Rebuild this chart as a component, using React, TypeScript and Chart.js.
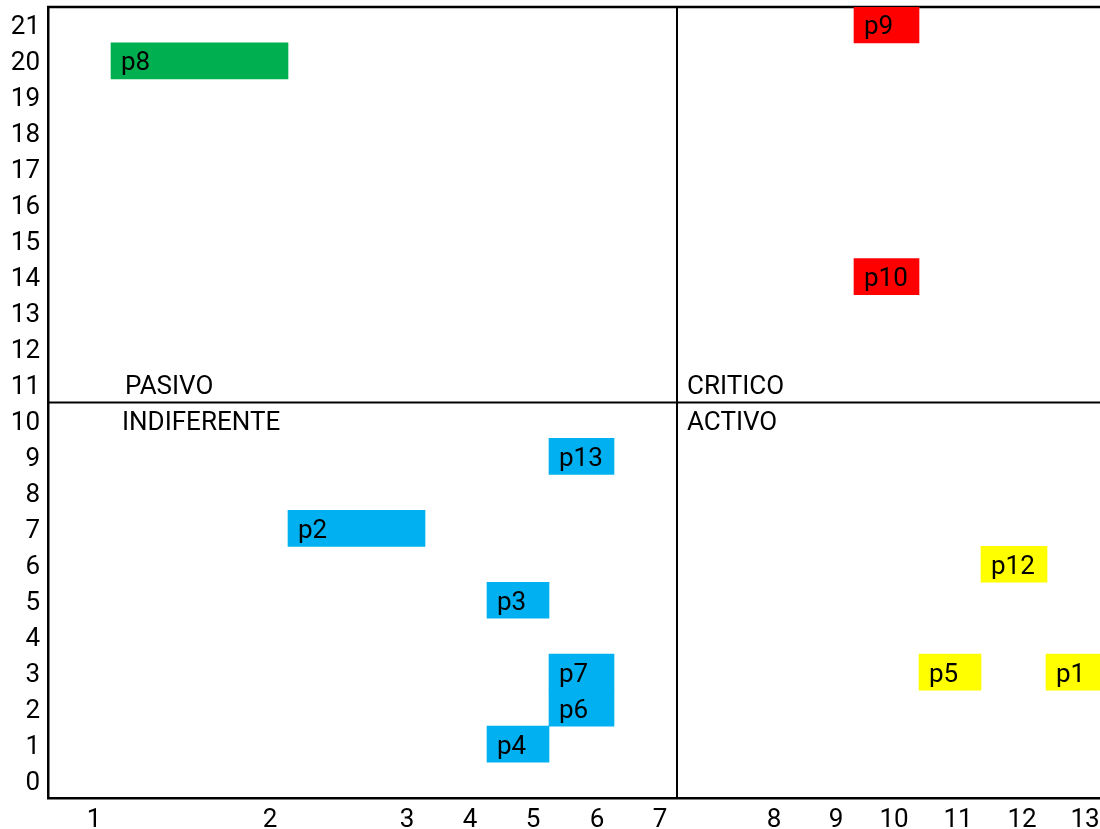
import React, { useEffect, useRef } from 'react';
import { Chart, registerables } from 'chart.js';

Chart.register(...registerables);

// Row categories (top to bottom)
const rowLabels = ['21', '20', '19', '18', '17', '16', '15', '14', '13', '12', '11', '10', '9', '8', '7', '6', '5', '4', '3', '2', '1', '0'];

// Horizontal axis tick positions (axis units) and their labels
const xTickValues = [4.6, 22.2, 35.9, 42.2, 48.5, 54.9, 61.2, 72.6, 78.8, 84.6, 91.0, 97.4, 103.7];
const xTickLabels = ['1', '2', '3', '4', '5', '6', '7', '8', '9', '10', '11', '12', '13'];

// PASIVO group (green)
const pasivoNames = ['p8'];
const pasivoRows = ['20'];
const pasivoStart = [6.3];
const pasivoEnd = [24.0];

// INDIFERENTE group (blue)
const indifNames = ['p2', 'p3', 'p4', 'p13', 'p7', 'p6'];
const indifRows = ['7', '5', '1', '9', '3', '2'];
const indifStart = [24.0, 43.9, 43.9, 50.1, 50.1, 50.1];
const indifEnd = [37.7, 50.1, 50.1, 56.6, 56.6, 56.6];

// CRITICO group (red)
const criticoNames = ['p9', 'p10'];
const criticoRows = ['21', '14'];
const criticoStart = [80.6, 80.6];
const criticoEnd = [87.1, 87.1];

// ACTIVO group (yellow)
const activoNames = ['p5', 'p12', 'p1'];
const activoRows = ['3', '6', '3'];
const activoStart = [87.1, 93.3, 99.8];
const activoEnd = [93.3, 99.9, 106.3];

// Quadrant dividers and captions
const splitX = 62.9;
const splitRowAbove = '11';
const splitRowBelow = '10';
const quadrantNames = ['PASIVO', 'INDIFERENTE', 'CRITICO', 'ACTIVO'];
const quadrantRows = ['11', '10', '11', '10'];
const quadrantX = [7.7, 7.4, 63.9, 63.9];

const X_MIN = 0;
const X_MAX = 107;
const FONT = 'Roboto, "Noto Sans", sans-serif';
const FONT_SIZE = 26;
const TEXT_DY = 3;

const makeData = (rows: string[], starts: number[], ends: number[]) =>
  rows.map((r, i) => ({ y: r, x: [starts[i], ends[i]] }));

const groups = [
  { names: pasivoNames, rows: pasivoRows, start: pasivoStart, end: pasivoEnd, color: '#00B050' },
  { names: indifNames, rows: indifRows, start: indifStart, end: indifEnd, color: '#00B0F0' },
  { names: criticoNames, rows: criticoRows, start: criticoStart, end: criticoEnd, color: '#FF0000' },
  { names: activoNames, rows: activoRows, start: activoStart, end: activoEnd, color: '#FFFF00' },
];

const quadrantPlugin = {
  id: 'quadrants',
  beforeDatasetsDraw(chart: any) {
    const { ctx, chartArea, scales } = chart;
    const xs = scales.x;
    const ys = scales.y;
    ctx.save();
    ctx.strokeStyle = '#000';
    // top frame
    ctx.lineWidth = 2.5;
    ctx.beginPath();
    ctx.moveTo(chartArea.left - 1, chartArea.top);
    ctx.lineTo(chartArea.right, chartArea.top);
    ctx.stroke();
    // dividers
    ctx.lineWidth = 2;
    const vx = xs.getPixelForValue(splitX);
    ctx.beginPath();
    ctx.moveTo(vx, chartArea.top);
    ctx.lineTo(vx, chartArea.bottom);
    ctx.stroke();
    const ya = ys.getPixelForValue(rowLabels.indexOf(splitRowAbove));
    const yb = ys.getPixelForValue(rowLabels.indexOf(splitRowBelow));
    const hy = (ya + yb) / 2;
    ctx.beginPath();
    ctx.moveTo(chartArea.left, hy);
    ctx.lineTo(chartArea.right, hy);
    ctx.stroke();
    // captions
    ctx.fillStyle = '#000';
    ctx.font = FONT_SIZE + 'px ' + FONT;
    ctx.textAlign = 'left';
    ctx.textBaseline = 'middle';
    quadrantNames.forEach((n, i) => {
      const px = xs.getPixelForValue(quadrantX[i]);
      const py = ys.getPixelForValue(rowLabels.indexOf(quadrantRows[i]));
      ctx.fillText(n, px, py + TEXT_DY);
    });
    ctx.restore();
  },
  afterDatasetsDraw(chart: any) {
    const { ctx } = chart;
    ctx.save();
    ctx.fillStyle = '#000';
    ctx.font = FONT_SIZE + 'px ' + FONT;
    ctx.textAlign = 'left';
    ctx.textBaseline = 'middle';
    chart.data.datasets.forEach((ds: any, di: number) => {
      const meta = chart.getDatasetMeta(di);
      meta.data.forEach((el: any, i: number) => {
        const p = el.getProps(['x', 'base', 'y'], true);
        const left = Math.min(p.x, p.base);
        ctx.fillText(ds.names[i], left + 10, p.y + TEXT_DY);
      });
    });
    ctx.restore();
  },
};

export default function App() {
  const canvasRef = useRef<HTMLCanvasElement | null>(null);

  useEffect(() => {
    const canvas = canvasRef.current;
    if (!canvas) return;
    const chart = new Chart(canvas, {
      type: 'bar',
      data: {
        labels: rowLabels,
        datasets: groups.map((g) => ({
          label: g.names.join(','),
          names: g.names,
          data: makeData(g.rows, g.start, g.end),
          backgroundColor: g.color,
          borderWidth: 0,
          grouped: false,
          barPercentage: 1,
          categoryPercentage: 1,
        })) as any,
      },
      options: {
        responsive: false,
        animation: false,
        indexAxis: 'y',
        devicePixelRatio: 1,
        layout: { padding: { top: 7, right: 0, left: 0, bottom: 0 } },
        plugins: {
          legend: { display: false },
          tooltip: { enabled: false },
        },
        scales: {
          y: {
            type: 'category',
            labels: rowLabels,
            offset: true,
            grid: { display: false, drawTicks: false },
            border: { display: true, color: '#000', width: 2.5 },
            ticks: {
              color: '#000',
              font: { family: FONT, size: FONT_SIZE },
              padding: 8,
              labelOffset: TEXT_DY,
              autoSkip: false,
            },
            afterFit: (s: any) => {
              s.width = 48;
              s.paddingTop = 0;
              s.paddingBottom = 0;
            },
          },
          x: {
            type: 'linear',
            min: X_MIN,
            max: X_MAX,
            grid: { display: false, drawTicks: false },
            border: { display: true, color: '#000', width: 2.5 },
            ticks: {
              color: '#000',
              font: { family: FONT, size: FONT_SIZE },
              padding: 7,
              autoSkip: false,
              maxRotation: 0,
              callback: (_v: any, i: number) => xTickLabels[i],
            },
            afterBuildTicks: (s: any) => {
              s.ticks = xTickValues.map((v) => ({ value: v }));
            },
            afterFit: (s: any) => {
              s.height = 31;
              s.paddingLeft = 0;
              s.paddingRight = 0;
            },
          },
        },
      },
      plugins: [quadrantPlugin],
    });
    return () => chart.destroy();
  }, []);

  return (
    <div
      style={{
        position: 'fixed',
        left: 0,
        top: 0,
        width: 1100,
        height: 829,
        overflow: 'hidden',
        background: '#fff',
      }}
    >
      <canvas ref={canvasRef} width={1118} height={829} style={{ width: 1118, height: 829, display: 'block' }} />
    </div>
  );
}
